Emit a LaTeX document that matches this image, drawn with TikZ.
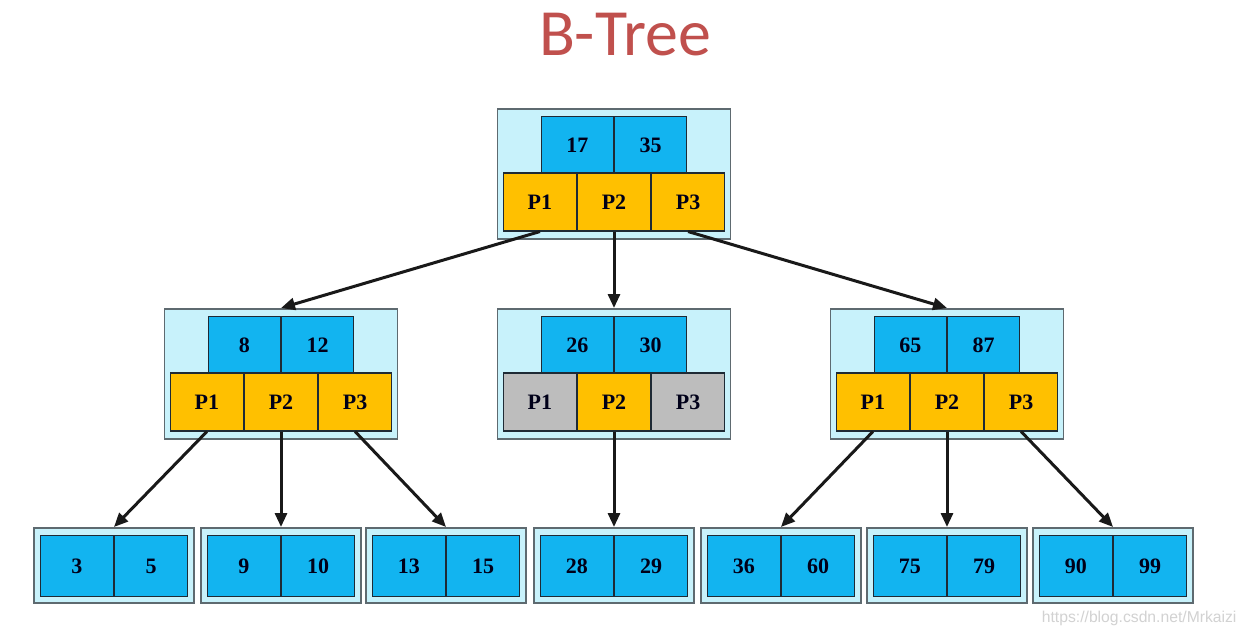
\documentclass[tikz,border=0pt]{standalone}
\usepackage{fontspec}
\setmainfont{Liberation Serif}
\newfontfamily\titlefont{Carlito}
\newfontfamily\wmfont{Liberation Sans}
\usetikzlibrary{arrows.meta}
\definecolor{keyblue}{HTML}{12B4F0}
\definecolor{ptrorange}{HTML}{FFC000}
\definecolor{ptrgray}{HTML}{BDBDBD}
\definecolor{outerfill}{HTML}{C8F2FB}
\definecolor{outerline}{HTML}{5E6A70}
\definecolor{celline}{HTML}{1E2A35}
\definecolor{titlered}{HTML}{C0504D}
\definecolor{wmgray}{HTML}{D2D2D2}
\tikzset{
  outerbox/.style={draw=outerline, line width=1.8pt, fill=outerfill, inner sep=0pt, minimum width=233pt, minimum height=130pt, anchor=north},
  leafbox/.style={draw=outerline, line width=1.8pt, fill=outerfill, inner sep=0pt, minimum width=160pt, minimum height=75pt, anchor=north},
  cell/.style={draw=celline, line width=1.1pt, inner sep=0pt, font=\fontsize{22}{24}\selectfont\bfseries, text=black!90!blue},
  keycell/.style={cell, fill=keyblue, minimum width=72pt, minimum height=57pt},
  ptrcell/.style={cell, fill=ptrorange, minimum width=73pt, minimum height=58pt},
  grcell/.style={cell, fill=ptrgray, minimum width=73pt, minimum height=58pt},
  leafcell/.style={cell, fill=keyblue, minimum width=73pt, minimum height=61pt},
  link/.style={line width=3pt, draw=black!90, -{Triangle[length=14pt,width=12pt]}},
}
% #1 name, #2 center x, #3 top y, #4 key1, #5 key2, #6 #7 #8 pointer styles
\newcommand{\bnode}[8]{%
  \node[outerbox] (#1) at (#2,#3) {};
  \node[keycell, anchor=north east] (#1-k1) at (#2,#3+8) {#4};
  \node[keycell, anchor=north west] (#1-k2) at (#2,#3+8) {#5};
  \node[#7] (#1-p2) at (#2,#3+94) {P2};
  \node[#6, anchor=east] (#1-p1) at (#1-p2.west) {P1};
  \node[#8, anchor=west] (#1-p3) at (#1-p2.east) {P3};
}
\newcommand{\lnode}[4]{%
  \node[leafbox] (#1) at (#2,527) {};
  \node[leafcell, anchor=north east] (#1-k1) at (#2,535) {#3};
  \node[leafcell, anchor=north west] (#1-k2) at (#2,535) {#4};
}
\begin{document}
\begin{tikzpicture}[x=1pt,y=-1pt]
\useasboundingbox (0,0) rectangle (1248,632);
\fill[white] (0,0) rectangle (1248,632);
\node[font=\titlefont\fontsize{66}{70}\selectfont, text=titlered, anchor=base] (title) at (625,55) {B-Tree};

\bnode{root}{614}{108}{17}{35}{ptrcell}{ptrcell}{ptrcell}
\bnode{L}{281}{308}{8}{12}{ptrcell}{ptrcell}{ptrcell}
\bnode{M}{614}{308}{26}{30}{grcell}{ptrcell}{grcell}
\bnode{R}{947}{308}{65}{87}{ptrcell}{ptrcell}{ptrcell}

\lnode{l1}{114}{3}{5}
\lnode{l2}{281}{9}{10}
\lnode{l3}{446}{13}{15}
\lnode{l4}{614}{28}{29}
\lnode{l5}{781}{36}{60}
\lnode{l6}{947}{75}{79}
\lnode{l7}{1113}{90}{99}

\draw[link] (root-p1.south) -- (L.north);
\draw[link] (root-p2.south) -- (M.north);
\draw[link] (root-p3.south) -- (R.north);
\draw[link] (L-p1.south) -- (l1.north);
\draw[link] (L-p2.south) -- (l2.north);
\draw[link] (L-p3.south) -- (l3.north);
\draw[link] (M-p2.south) -- (l4.north);
\draw[link] (R-p1.south) -- (l5.north);
\draw[link] (R-p2.south) -- (l6.north);
\draw[link] (R-p3.south) -- (l7.north);

\node[font=\wmfont\fontsize{15.7}{17}\selectfont, text=wmgray, anchor=base east] (wm) at (1240,622) {https://blog.csdn.net/Mrkaizi};
\end{tikzpicture}
\end{document}
